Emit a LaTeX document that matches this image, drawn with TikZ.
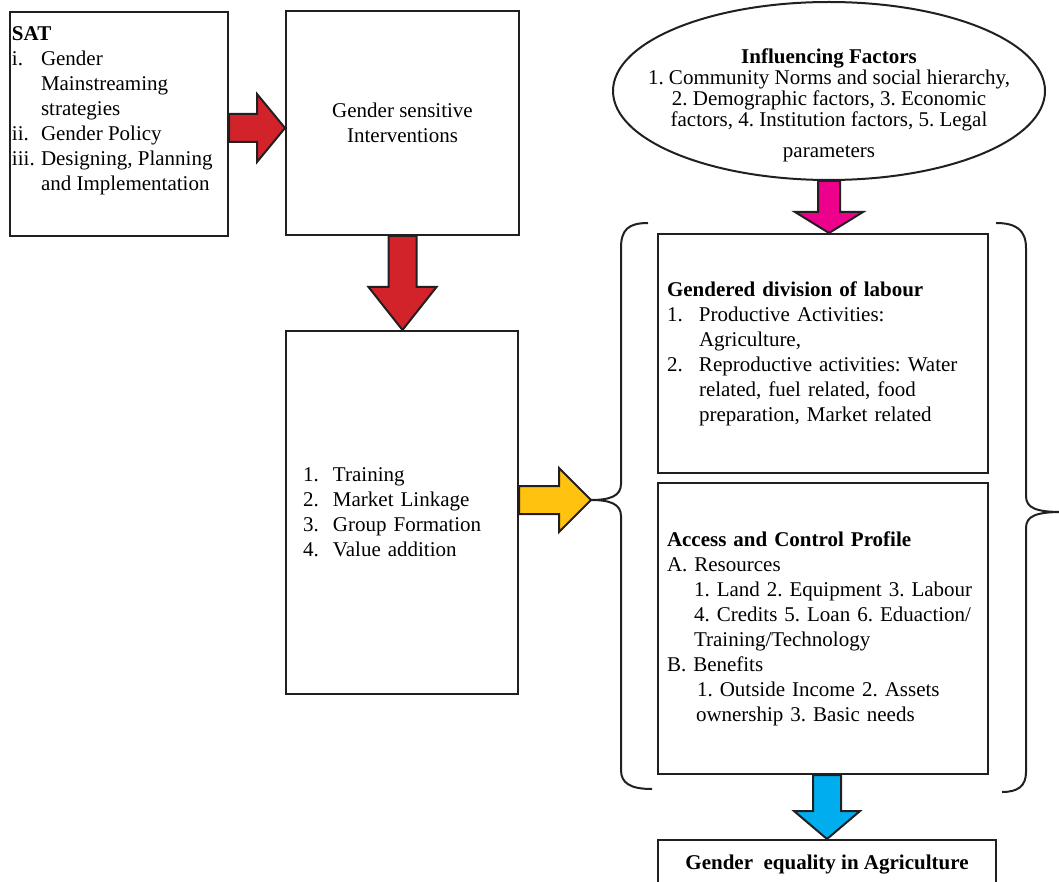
\documentclass[tikz,border=0pt]{standalone}
\usepackage{fontspec}
\setmainfont{Liberation Serif}
\frenchspacing
\usetikzlibrary{shapes,positioning,calc}
\definecolor{Line}{HTML}{231F20}
\definecolor{Red}{HTML}{D2232A}
\definecolor{Yellow}{HTML}{FFC20E}
\definecolor{Magenta}{HTML}{EC008C}
\definecolor{Cyan}{HTML}{00AEEF}
\newcommand{\itemlbl}[2]{\makebox[#1][l]{#2}}

\begin{document}
\begin{tikzpicture}
[x=1pt,y=-1pt,
box/.style={rectangle,draw=Line,line width=2pt,inner ysep=0pt,align=left,
  font=\fontsize{21}{25}\selectfont},
oval/.style={ellipse,draw=Line,line width=2pt},
blockarrow/.style={draw=Line,line width=2pt,line join=miter},
brace/.style={draw=Line,line width=2pt}
]
\useasboundingbox (0,0) rectangle (1059,882);
%% block arrows: from, to, colour, shaft half width, head half width, head length
\newcommand{\rightblock}[6]{%
\draw[blockarrow,fill=#3] ($(#1)+(0,-#4)$) -- ($(#2)+(-#6,-#4)$) -- ($(#2)+(-#6,-#5)$)
-- (#2) -- ($(#2)+(-#6,#5)$) -- ($(#2)+(-#6,#4)$) -- ($(#1)+(0,#4)$) -- cycle;}
\newcommand{\downblock}[6]{%
\draw[blockarrow,fill=#3] ($(#1)+(-#4,0)$) -- ($(#2)+(-#4,-#6)$) -- ($(#2)+(-#5,-#6)$)
-- (#2) -- ($(#2)+(#5,-#6)$) -- ($(#2)+(#4,-#6)$) -- ($(#1)+(#4,0)$) -- cycle;}
%% left column
\node[box,anchor=north west,minimum width=218,minimum height=224,inner xsep=2pt,inner ysep=15pt] (sat) at (9,11)
{\begin{minipage}[c][194pt][t]{214pt}
\textbf{SAT}\\
\itemlbl{29pt}{i.}Gender\\
\hspace*{29pt}Mainstreaming\\
\hspace*{29pt}strategies\\
\itemlbl{29pt}{ii.}Gender Policy\\
\itemlbl{29pt}{iii.}Designing, Planning\\
\hspace*{29pt}and Implementation
\end{minipage}};
\node[box,align=center,minimum width=233,minimum height=224] (gsi) at (402.5,123)
{Gender sensitive\\Interventions};
\node[box,minimum width=232,minimum height=363,text width=198,inner xsep=17pt] (interv) at (402,512.5)
{\itemlbl{30pt}{1.}Training\\
\itemlbl{30pt}{2.}Market Linkage\\
\itemlbl{30pt}{3.}Group Formation\\
\itemlbl{30pt}{4.}Value addition};
%% right column
\node[oval,minimum width=432,minimum height=178] (inf) at (829,91) {};
\node[align=center,font=\fontsize{21}{21}\selectfont] (inftxt) at (829,105)
{\textbf{Influencing Factors}\\
1. Community Norms and social hierarchy,\\
2. Demographic factors, 3. Economic\\
factors, 4. Institution factors, 5. Legal\\[10pt]
parameters};
\node[box,minimum width=330,minimum height=239,text width=312,inner xsep=9pt] (gdl) at (823,353.5)
{\textbf{Gendered division of labour}\\
\itemlbl{32pt}{1.}Productive Activities:\\
\hspace*{32pt}Agriculture,\\
\itemlbl{32pt}{2.}Reproductive activities: Water\\
\hspace*{32pt}related, fuel related, food\\
\hspace*{32pt}preparation, Market related};
\node[box,minimum width=330,minimum height=291,text width=312,inner xsep=9pt] (acp) at (823,628.5)
{\begin{tabular}{@{}l@{}}
\textbf{Access and Control Profile}\\
A. Resources\\
\hspace*{27pt}1. Land 2. Equipment 3. Labour\\
\hspace*{27pt}4. Credits 5. Loan 6. Eduaction/\\
\hspace*{27pt}Training/Technology\\
B. Benefits\\
\hspace*{30pt}1. Outside Income 2. Assets\\
\hspace*{29pt}ownership 3. Basic needs
\end{tabular}};
\node[box,align=center,minimum width=338,minimum height=50] (gea) at (827,865)
{\textbf{Gender\ \ equality in Agriculture}};
%% braces
\draw[brace] (648,223) .. controls (628,223) and (621,230) .. (621,248) -- (621,484)
.. controls (621,496) and (610,500) .. (591,500) coordinate (lbrace)
.. controls (610,500) and (621,504) .. (621,516) -- (621,770)
.. controls (621,783) and (630,789) .. (652,789);
\draw[brace] (996,223) .. controls (1016,223) and (1026,230) .. (1026,248) -- (1026,496)
.. controls (1026,508) and (1036,512) .. (1062,512) coordinate (rbrace)
.. controls (1036,512) and (1026,516) .. (1026,528) -- (1026,772)
.. controls (1026,786) and (1018,792) .. (1002,792);
%% arrows
\coordinate (s1) at ($(sat.east)+(0,4)$);
\coordinate (t1) at (s1 -| gsi.west);
\rightblock{s1}{t1}{Red}{14}{34}{28}
\coordinate (t2) at (gsi.south |- interv.north);
\downblock{gsi.south}{t2}{Red}{14}{34}{43}
\coordinate (t3) at (inf.south |- gdl.north);
\downblock{inf.south}{t3}{Magenta}{11}{34}{21}
\coordinate (s4) at (interv.east |- lbrace);
\rightblock{s4}{lbrace}{Yellow}{14}{32}{32}
\coordinate (s5) at ($(acp.south)+(4,0)$);
\coordinate (t5) at (s5 |- gea.north);
\downblock{s5}{t5}{Cyan}{14}{33}{28}
\end{tikzpicture}
\end{document}
